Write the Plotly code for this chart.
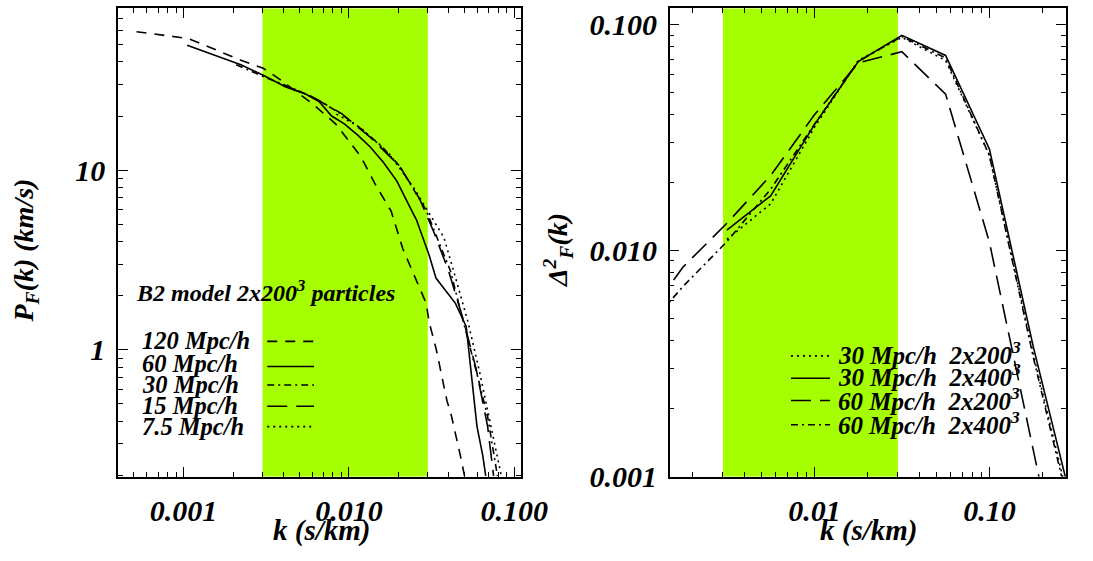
import math
import plotly.graph_objects as go

# ---------------- Left panel: P_F(k) ----------------
k_120 = [5.19e-4, 1.07e-3, 1.5e-3, 2.2e-3, 3.03e-3, 3.82e-3, 5.98e-3, 8.30e-3, 1.00e-2,
         1.18e-2, 1.44e-2, 1.80e-2, 2.12e-2, 2.59e-2, 2.93e-2, 3.06e-2, 3.37e-2, 3.91e-2,
         4.18e-2, 4.72e-2, 5.0e-2]
p_120 = [58.9, 54.0, 47.5, 41.0, 36.9, 32.0, 23.5, 18.1, 14.5, 11.9, 8.37, 5.91, 3.64, 2.36,
         1.82, 1.42, 1.01, 0.524, 0.425, 0.258, 0.199]

k_60 = [1.05e-3, 1.54e-3, 2.22e-3, 3.03e-3, 4.15e-3, 5.44e-3, 6.59e-3, 7.86e-3, 9.38e-3,
        1.135e-2, 1.35e-2, 1.61e-2, 1.95e-2, 2.23e-2, 2.56e-2, 3.05e-2, 3.36e-2, 3.85e-2,
        4.40e-2, 5.12e-2, 5.56e-2, 5.95e-2, 6.45e-2, 6.72e-2]
p_60 = [49.5, 43.7, 38.6, 33.7, 29.0, 26.6, 24.1, 20.0, 18.1, 15.6, 13.4, 11.1, 8.69, 6.78,
        5.29, 3.38, 2.51, 2.13, 1.82, 1.35, 0.697, 0.375, 0.258, 0.199]

k_30 = [2.08e-3, 3.03e-3, 4.56e-3, 6.59e-3, 9.0e-3, 1.18e-2, 1.55e-2, 2.03e-2, 2.49e-2,
        2.93e-2, 3.50e-2, 4.12e-2, 4.72e-2, 5.26e-2, 6.03e-2, 6.90e-2, 7.91e-2]
p_30 = [38.6, 33.2, 28.6, 24.4, 20.5, 17.0, 13.8, 10.5, 7.67, 5.98, 3.97, 2.74, 1.66, 1.15,
        0.70, 0.425, 0.199]

k_15 = [3.98e-3, 5.98e-3, 9.0e-3, 1.35e-2, 2.03e-2, 2.67e-2, 3.27e-2, 4.01e-2, 4.92e-2,
        5.87e-2, 6.90e-2, 7.5e-2]
p_15 = [29.7, 25.6, 20.7, 15.2, 10.5, 6.95, 4.50, 2.74, 1.47, 0.789, 0.375, 0.199]

k_7p5 = [8.4e-3, 1.18e-2, 1.77e-2, 2.49e-2, 3.05e-2, 3.75e-2, 4.47e-2, 5.26e-2, 6.19e-2,
         7.19e-2, 8.35e-2]
p_7p5 = [20.5, 17.2, 12.2, 7.87, 5.77, 4.23, 2.42, 1.42, 0.742, 0.375, 0.199]

left_names = ["120 Mpc/h", "60 Mpc/h", "30 Mpc/h", "15 Mpc/h", "7.5 Mpc/h"]

# ---------------- Right panel: Delta^2_F(k) ----------------
k_box30 = [0.00316, 0.00562, 0.01, 0.0178, 0.0316, 0.0562, 0.1, 0.178, 0.316]
d_30_200 = [0.01121, 0.0161, 0.0351, 0.0695, 0.0879, 0.0694, 0.0264, 0.00349, 0.00055]
d_30_400 = [0.01234, 0.01748, 0.0361, 0.0687, 0.0897, 0.0731, 0.0282, 0.00377, 0.00062]

k_box60 = [0.001, 0.00178, 0.00316, 0.00562, 0.01, 0.0178, 0.0316, 0.0562, 0.1, 0.178, 0.316]
d_60_200 = [0.0046, 0.00848, 0.01322, 0.0215, 0.0399, 0.0677, 0.0759, 0.0493, 0.0109, 0.00131, 0.00016]
d_60_400 = [0.00418, 0.00696, 0.01096, 0.0187, 0.0362, 0.0687, 0.0887, 0.0712, 0.0264, 0.00339, 0.00052]

right_names = ["30 Mpc/h\u00a0\u00a02x200<sup>3</sup>", "30 Mpc/h\u00a0\u00a02x400<sup>3</sup>",
               "60 Mpc/h\u00a0\u00a02x200<sup>3</sup>", "60 Mpc/h\u00a0\u00a02x400<sup>3</sup>"]

band_k = [0.003, 0.03]

left_xtickvals = [0.001, 0.01, 0.1]
left_xticktext = ["0.001", "0.010", "0.100"]
left_ytickvals = [1, 10]
left_yticktext = ["1", "10"]
right_xtickvals = [0.01, 0.1]
right_xticktext = ["0.01", "0.10"]
right_ytickvals = [0.001, 0.01, 0.1]
right_yticktext = ["0.001", "0.010", "0.100"]

# ---------------- styles ----------------
FONT = "Liberation Serif"
BAND = "#a6ff00"
W = 1093
H = 561
DASH_SHORT = "10px,8px"
DASH_LONG = "20px,9px"
DASH_DOT = "7px,4px,2px,4px"
DOT = "2px,4px"

left_styles = [DASH_SHORT, "solid", DASH_DOT, DASH_LONG, DOT]
right_styles = [DOT, "solid", DASH_LONG, DASH_DOT]


def minors(lo, hi):
    return [m * 10.0 ** e for e in range(lo, hi) for m in range(2, 10)]


def tfont(size):
    return dict(family=FONT, size=size, color="black", weight="bold", style="italic")


fig = go.Figure()

left_data = [(k_120, p_120), (k_60, p_60), (k_30, p_30), (k_15, p_15), (k_7p5, p_7p5)]
for (kk, pp), dash, name in zip(left_data, left_styles, left_names):
    fig.add_trace(go.Scatter(x=kk, y=pp, mode="lines", name=name, showlegend=False,
                             line=dict(color="black", width=1.6, dash=dash),
                             xaxis="x", yaxis="y"))

right_data = [(k_box30, d_30_200), (k_box30, d_30_400), (k_box60, d_60_200), (k_box60, d_60_400)]
for (kk, dd), dash, name in zip(right_data, right_styles, right_names):
    fig.add_trace(go.Scatter(x=kk, y=dd, mode="lines", name=name, showlegend=False,
                             line=dict(color="black", width=1.6, dash=dash),
                             xaxis="x2", yaxis="y2"))


def axis(domain, rng, tv, tt, mv, anchor, standoff):
    return dict(type="log", domain=domain, range=rng, anchor=anchor,
                showline=True, linecolor="black", linewidth=1.5, mirror="allticks",
                ticks="inside", ticklen=10, tickwidth=1.2, tickcolor="black",
                showgrid=False, zeroline=False, tickmode="array", tickvals=tv, ticktext=tt,
                tickfont=tfont(30), ticklabelstandoff=standoff,
                minor=dict(ticks="inside", ticklen=5, tickwidth=1, tickcolor="black",
                           tickmode="array", tickvals=mv, showgrid=False))


ydom = [1 - 491.5 / H, 1 - 8.7 / H]
fig.update_layout(
    width=W, height=H, autosize=False,
    margin=dict(l=0, r=0, t=0, b=0),
    paper_bgcolor="white", plot_bgcolor="white", showlegend=False,
    xaxis=axis([121 / W, 534.3 / W], [math.log10(0.000401), math.log10(0.110)],
               left_xtickvals, left_xticktext, minors(-4, -1), "y", 7),
    yaxis=axis(ydom, [math.log10(0.197), math.log10(79.4)],
               left_ytickvals, left_yticktext, minors(-1, 2), "x", 5),
    xaxis2=axis([686.7 / W, 1.0], [math.log10(0.00149), math.log10(0.274)],
                right_xtickvals, right_xticktext, minors(-3, 0), "y2", 7),
    yaxis2=axis(ydom, [-3, math.log10(0.118)],
                right_ytickvals, right_yticktext, minors(-3, 0), "x2", 5),
)

# green bands (shape x values on log axes are given in data units)
for xr, yr in [("x", "y domain"), ("x2", "y2 domain")]:
    fig.add_shape(type="rect", xref=xr, yref=yr, x0=band_k[0], x1=band_k[1],
                  y0=0, y1=1, fillcolor=BAND, opacity=1, line=dict(width=0), layer="below")


def px(x):
    return x / W


def py(y):
    return 1 - y / H


# axis titles
fig.add_annotation(text="k (s/km)", x=px(330), y=py(547), xref="paper", yref="paper",
                   showarrow=False, font=tfont(29), xanchor="center", yanchor="middle")
fig.add_annotation(text="k (s/km)", x=px(890), y=py(547), xref="paper", yref="paper",
                   showarrow=False, font=tfont(29), xanchor="center", yanchor="middle")
fig.add_annotation(text="P<sub>F</sub>(k) (km/s)", x=px(26), y=py(258), xref="paper", yref="paper",
                   showarrow=False, font=tfont(28), textangle=-90, xanchor="center", yanchor="middle")
fig.add_annotation(text="\u0394<sup>2</sup><sub>F</sub>(k)", x=px(572), y=py(258), xref="paper",
                   yref="paper", showarrow=False, font=tfont(28), textangle=-90,
                   xanchor="center", yanchor="middle")

# left legend
fig.add_annotation(text="B2 model 2x200<sup>3</sup> particles", x=px(137), y=py(300),
                   xref="paper", yref="paper", showarrow=False, font=tfont(24),
                   xanchor="left", yanchor="middle")
left_text_y = [351, 375, 397, 418, 440]
left_line_y = [352, 378, 397, 419, 440]
for name, ty, ly, dash in zip(left_names, left_text_y, left_line_y, left_styles):
    fig.add_annotation(text=name, x=px(144), y=py(ty), xref="paper", yref="paper",
                       showarrow=False, font=tfont(24.5), xanchor="left", yanchor="middle")
    fig.add_shape(type="line", xref="paper", yref="paper", x0=px(274), x1=px(322),
                  y0=py(ly), y1=py(ly), line=dict(color="black", width=1.6, dash=dash))

# right legend
right_text_y = [364, 387, 411, 436]
right_line_y = [367, 390, 413, 438]
for name, ty, ly, dash in zip(right_names, right_text_y, right_line_y, right_styles):
    fig.add_annotation(text=name, x=px(857), y=py(ty), xref="paper", yref="paper",
                       showarrow=False, font=tfont(25), xanchor="left", yanchor="middle")
    fig.add_shape(type="line", xref="paper", yref="paper", x0=px(811), x1=px(851),
                  y0=py(ly), y1=py(ly), line=dict(color="black", width=1.6, dash=dash))

fig.write_html(
    "out.html",
    config={"responsive": False},
    post_script="document.body.style.margin='0';document.body.style.overflow='hidden';",
)
